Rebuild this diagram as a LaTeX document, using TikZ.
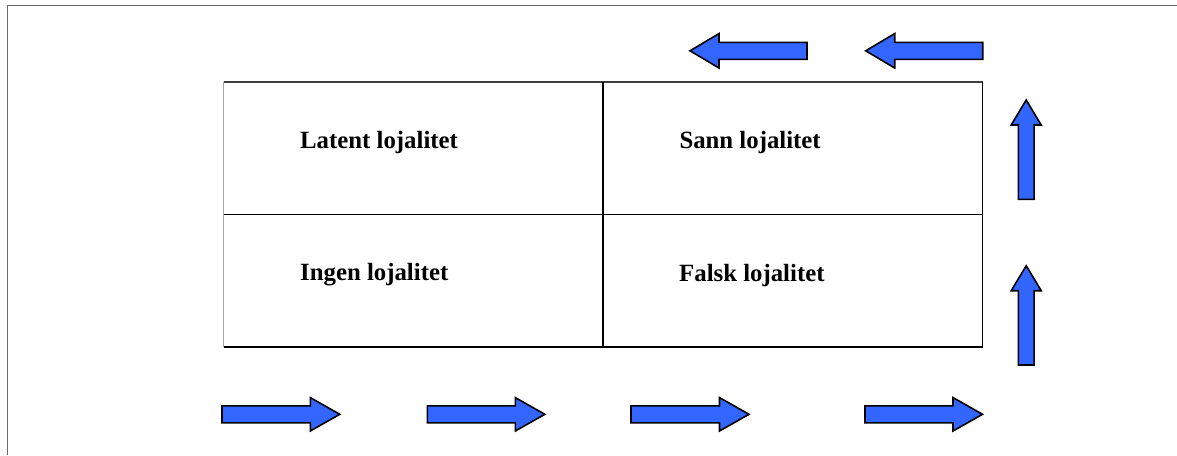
\documentclass[tikz,border=0pt]{standalone}
\usepackage{fontspec}
\setmainfont{Liberation Serif}
\definecolor{arrowblue}{RGB}{51,102,255}
\definecolor{framegray}{RGB}{105,105,105}
\tikzset{
  blockarr/.style={fill=arrowblue,draw=black,line width=1.6pt,line join=miter},
  lbl/.style={font=\fontsize{24.8}{30}\selectfont\bfseries,anchor=base west,inner sep=0pt},
  frameline/.style={draw=framegray,line width=1pt},
  gridline/.style={draw=black,line width=1.6pt}
}
% x, y (tail centre), angle, length, head length, shaft half width, head half width
\newcommand\blockarrowat[7]{%
  \begin{scope}[shift={(#1,#2)},rotate=#3]
    \draw[blockarr] (0,-#6) -- ({#4-#5},-#6) -- ({#4-#5},-#7) -- (#4,0)
      -- ({#4-#5},#7) -- ({#4-#5},#6) -- (0,#6) -- cycle;
  \end{scope}}
\begin{document}
\begin{tikzpicture}[x=1pt,y=-1pt]
  \useasboundingbox (0,0) rectangle (1177,455);
  % outer frame
  \draw[frameline] (7,455) -- (7,5.5) -- (1177,5.5);
  % table
  \coordinate (tl) at (223.5,82);
  \coordinate (tr) at (982.5,82);
  \coordinate (ml) at (223.5,214.5);
  \coordinate (mr) at (982.5,214.5);
  \coordinate (bl) at (223.5,346.7);
  \coordinate (br) at (982.5,346.7);
  \coordinate (tm) at (603,82);
  \coordinate (bm) at (603,346.7);
  \draw[draw=gray!70,line width=1pt] (tl) -- (bl);
  \draw[draw=black!75,line width=1.4pt] (tl) -- (tr);
  \draw[gridline] (tr) -- (br);
  \draw[gridline] (bl) -- (br);
  \draw[gridline] (ml) -- (mr);
  \draw[gridline] (tm) -- (bm);
  % labels
  \node[lbl] (latent) at (300,148) {Latent lojalitet};
  \node[lbl] (sann)   at (679.3,148) {Sann lojalitet};
  \node[lbl] (ingen)  at (300,280.7) {Ingen lojalitet};
  \node[lbl] (falsk)  at (679,281.5) {Falsk lojalitet};
  % bottom arrows (pointing right)
  \blockarrowat{222}{414.3}{0}{117.8}{29.5}{8.5}{16.7}
  \blockarrowat{427.3}{414.3}{0}{117.5}{29.5}{8.5}{16.7}
  \blockarrowat{631}{414.3}{0}{118}{29.5}{8.5}{16.7}
  \blockarrowat{865}{414.3}{0}{117.5}{29.5}{8.5}{16.7}
  % right arrows (pointing up)
  \blockarrowat{1026.2}{365}{90}{99.3}{25}{7.85}{15}
  \blockarrowat{1026.2}{199.3}{90}{99.3}{25}{7.85}{15}
  % top arrows (pointing left)
  \blockarrowat{982.7}{50.8}{180}{117}{29}{8.5}{17.2}
  \blockarrowat{807}{50.8}{180}{117}{29}{8.5}{17.2}
\end{tikzpicture}
\end{document}
